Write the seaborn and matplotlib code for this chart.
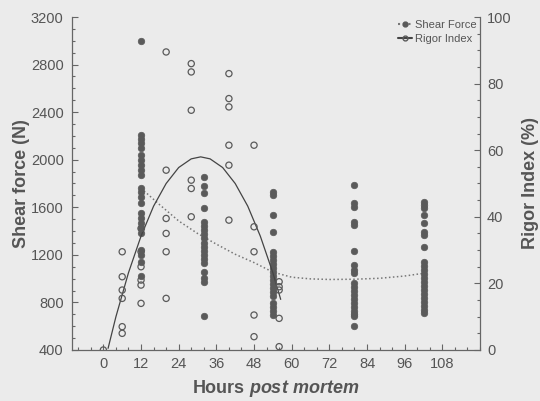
import numpy as np
import pandas as pd
import matplotlib
matplotlib.use("Agg")
import matplotlib.pyplot as plt
import seaborn as sns
from matplotlib.lines import Line2D
from matplotlib.ticker import MultipleLocator

# Shear force (N) per sampling time (hours post mortem)
sf_hours = [12, 32, 54, 80, 102]
sf_12 = [3000, 2210, 2175, 2140, 2100, 2040, 2000, 1955, 1915, 1870, 1760, 1730,
         1690, 1635, 1550, 1510, 1470, 1425, 1385, 1240, 1200, 1140, 1020]
sf_32 = [1855, 1780, 1720, 1595, 1475, 1445, 1410, 1375, 1340, 1300, 1265, 1235,
         1200, 1165, 1130, 1055, 1005, 970, 685]
sf_54 = [1730, 1705, 1535, 1390, 1225, 1190, 1155, 1125, 1090, 1055, 1020, 990,
         955, 920, 890, 855, 795, 760, 730, 695]
sf_80 = [1790, 1635, 1605, 1475, 1450, 1235, 1115, 1075, 1050, 965, 930, 895,
         860, 830, 795, 760, 730, 700, 685, 600]
sf_102 = [1645, 1620, 1595, 1535, 1470, 1390, 1365, 1265, 1140, 1105, 1070, 1040,
          1005, 970, 940, 905, 870, 840, 805, 770, 740, 710]

# Rigor index (%) per sampling time
ri_hours = [0, 6, 12, 20, 28, 40, 48, 56]
ri_0 = [0]
ri_6 = [29.5, 22, 18, 15.5, 7, 5]
ri_12 = [36.5, 29.5, 25, 21, 19.5, 14]
ri_20 = [89.5, 54, 39.5, 35, 29.5, 15.5]
ri_28 = [86, 83.5, 72, 51, 48.5, 40]
ri_40 = [83, 75.5, 73, 61.5, 55.5, 39]
ri_48 = [61.5, 37, 29.5, 10.5, 4]
ri_56 = [20.5, 19, 18, 9.5, 1]

# fitted curves
sf_fit_hours = [12, 18, 24, 30, 36, 42, 48, 54, 60, 66, 72, 80, 88, 96, 102]
sf_fit = [1760, 1620, 1485, 1380, 1290, 1205, 1135, 1055, 1012, 998, 993, 995,
          1003, 1022, 1045]
ri_fit_hours = [1.5, 4, 8, 12, 16, 20, 24, 28, 31, 34, 38, 42, 46, 50, 54, 56.5]
ri_fit = [0.5, 10, 23.2, 34.2, 43.2, 50, 54.8, 57.4, 58, 57.4, 54.8, 50, 43.2,
          34.2, 23.2, 15.2]

sf_groups = [sf_12, sf_32, sf_54, sf_80, sf_102]
ri_groups = [ri_0, ri_6, ri_12, ri_20, ri_28, ri_40, ri_48, ri_56]
sf_df = pd.DataFrame([(h, v) for h, g in zip(sf_hours, sf_groups) for v in g],
                     columns=["hours", "shear"])
ri_df = pd.DataFrame([(h, v) for h, g in zip(ri_hours, ri_groups) for v in g],
                     columns=["hours", "rigor"])

sns.set_style("ticks")
plt.rcParams["font.family"] = ["Liberation Sans", "DejaVu Sans"]
plt.rcParams["mathtext.fontset"] = "custom"
plt.rcParams["mathtext.it"] = "Liberation Sans:bold:italic"
plt.rcParams["mathtext.rm"] = "Liberation Sans:bold"
bg = "#ebebeb"
txt = "#555555"
mark = "#5a5a5a"

fig = plt.figure(figsize=(5.4, 4.01), dpi=100, facecolor=bg)
ax = fig.add_axes([0.1333, 0.1272, 0.7556, 0.8304], facecolor=bg)
ax2 = ax.twinx()

sns.scatterplot(data=sf_df, x="hours", y="shear", ax=ax, color=mark,
                edgecolor=mark, s=22, linewidth=0.5, zorder=3)
sns.lineplot(x=sf_fit_hours, y=sf_fit, ax=ax, color="#777777",
             linestyle=(0, (1, 1.6)), linewidth=1.1)

sns.scatterplot(data=ri_df, x="hours", y="rigor", ax=ax2, facecolor="none",
                edgecolor=mark, s=20, linewidth=0.9, zorder=3)
sns.lineplot(x=ri_fit_hours, y=ri_fit, ax=ax2, color="#444444", linewidth=0.9)

ax.set_xlim(-10, 120)
ax.set_ylim(400, 3200)
ax2.set_ylim(0, 100)
ax.set_xticks(np.arange(0, 109, 12))
ax.set_yticks(np.arange(400, 3201, 400))
ax2.set_yticks(np.arange(0, 101, 20))
ax.xaxis.set_minor_locator(MultipleLocator(4))
ax.yaxis.set_minor_locator(MultipleLocator(100))
ax2.yaxis.set_minor_locator(MultipleLocator(5))

for a in (ax, ax2):
    a.tick_params(which="both", direction="in", colors="#666666", labelcolor=txt,
                  labelsize=10.5, width=0.8)
    a.tick_params(which="major", length=4)
    a.tick_params(which="minor", length=2)
    a.spines["top"].set_visible(False)
    for s in a.spines.values():
        s.set_color("#666666")
        s.set_linewidth(0.9)
ax.tick_params(axis="y", pad=6)
ax.tick_params(axis="x", pad=5)
ax2.tick_params(axis="y", pad=5)
ax.spines["right"].set_visible(False)
ax2.spines["left"].set_visible(False)
ax2.spines["bottom"].set_visible(False)

ax.set_xlabel("Hours $\\it{post\\ mortem}$", fontsize=13, fontweight="bold",
              color=txt)
ax.set_ylabel("Shear force (N)", fontsize=13, fontweight="bold", color=txt)
ax2.set_ylabel("Rigor Index (%)", fontsize=13, fontweight="bold", color=txt)
ax.xaxis.set_label_coords(0.5, -0.085)
ax.yaxis.set_label_coords(-0.104, 0.5)
ax2.yaxis.set_label_coords(1.103, 0.5)

handles = [
    Line2D([], [], color="#777777", linestyle=(0, (1, 1.5)), marker="o",
           markerfacecolor=mark, markeredgecolor=mark, markersize=3.5),
    Line2D([], [], color="#444444", linestyle="-", marker="o",
           markerfacecolor="none", markeredgecolor=mark, markersize=3.5),
]
leg = ax2.legend(handles, ["Shear Force", "Rigor Index"], loc="upper right",
                 bbox_to_anchor=(1.0, 1.0), frameon=False, fontsize=8,
                 handlelength=1.2, handletextpad=0.3, borderaxespad=0.1,
                 labelspacing=0.3, borderpad=0.2)
for t in leg.get_texts():
    t.set_color(txt)

fig.savefig("out.png", dpi=100, facecolor=bg)
